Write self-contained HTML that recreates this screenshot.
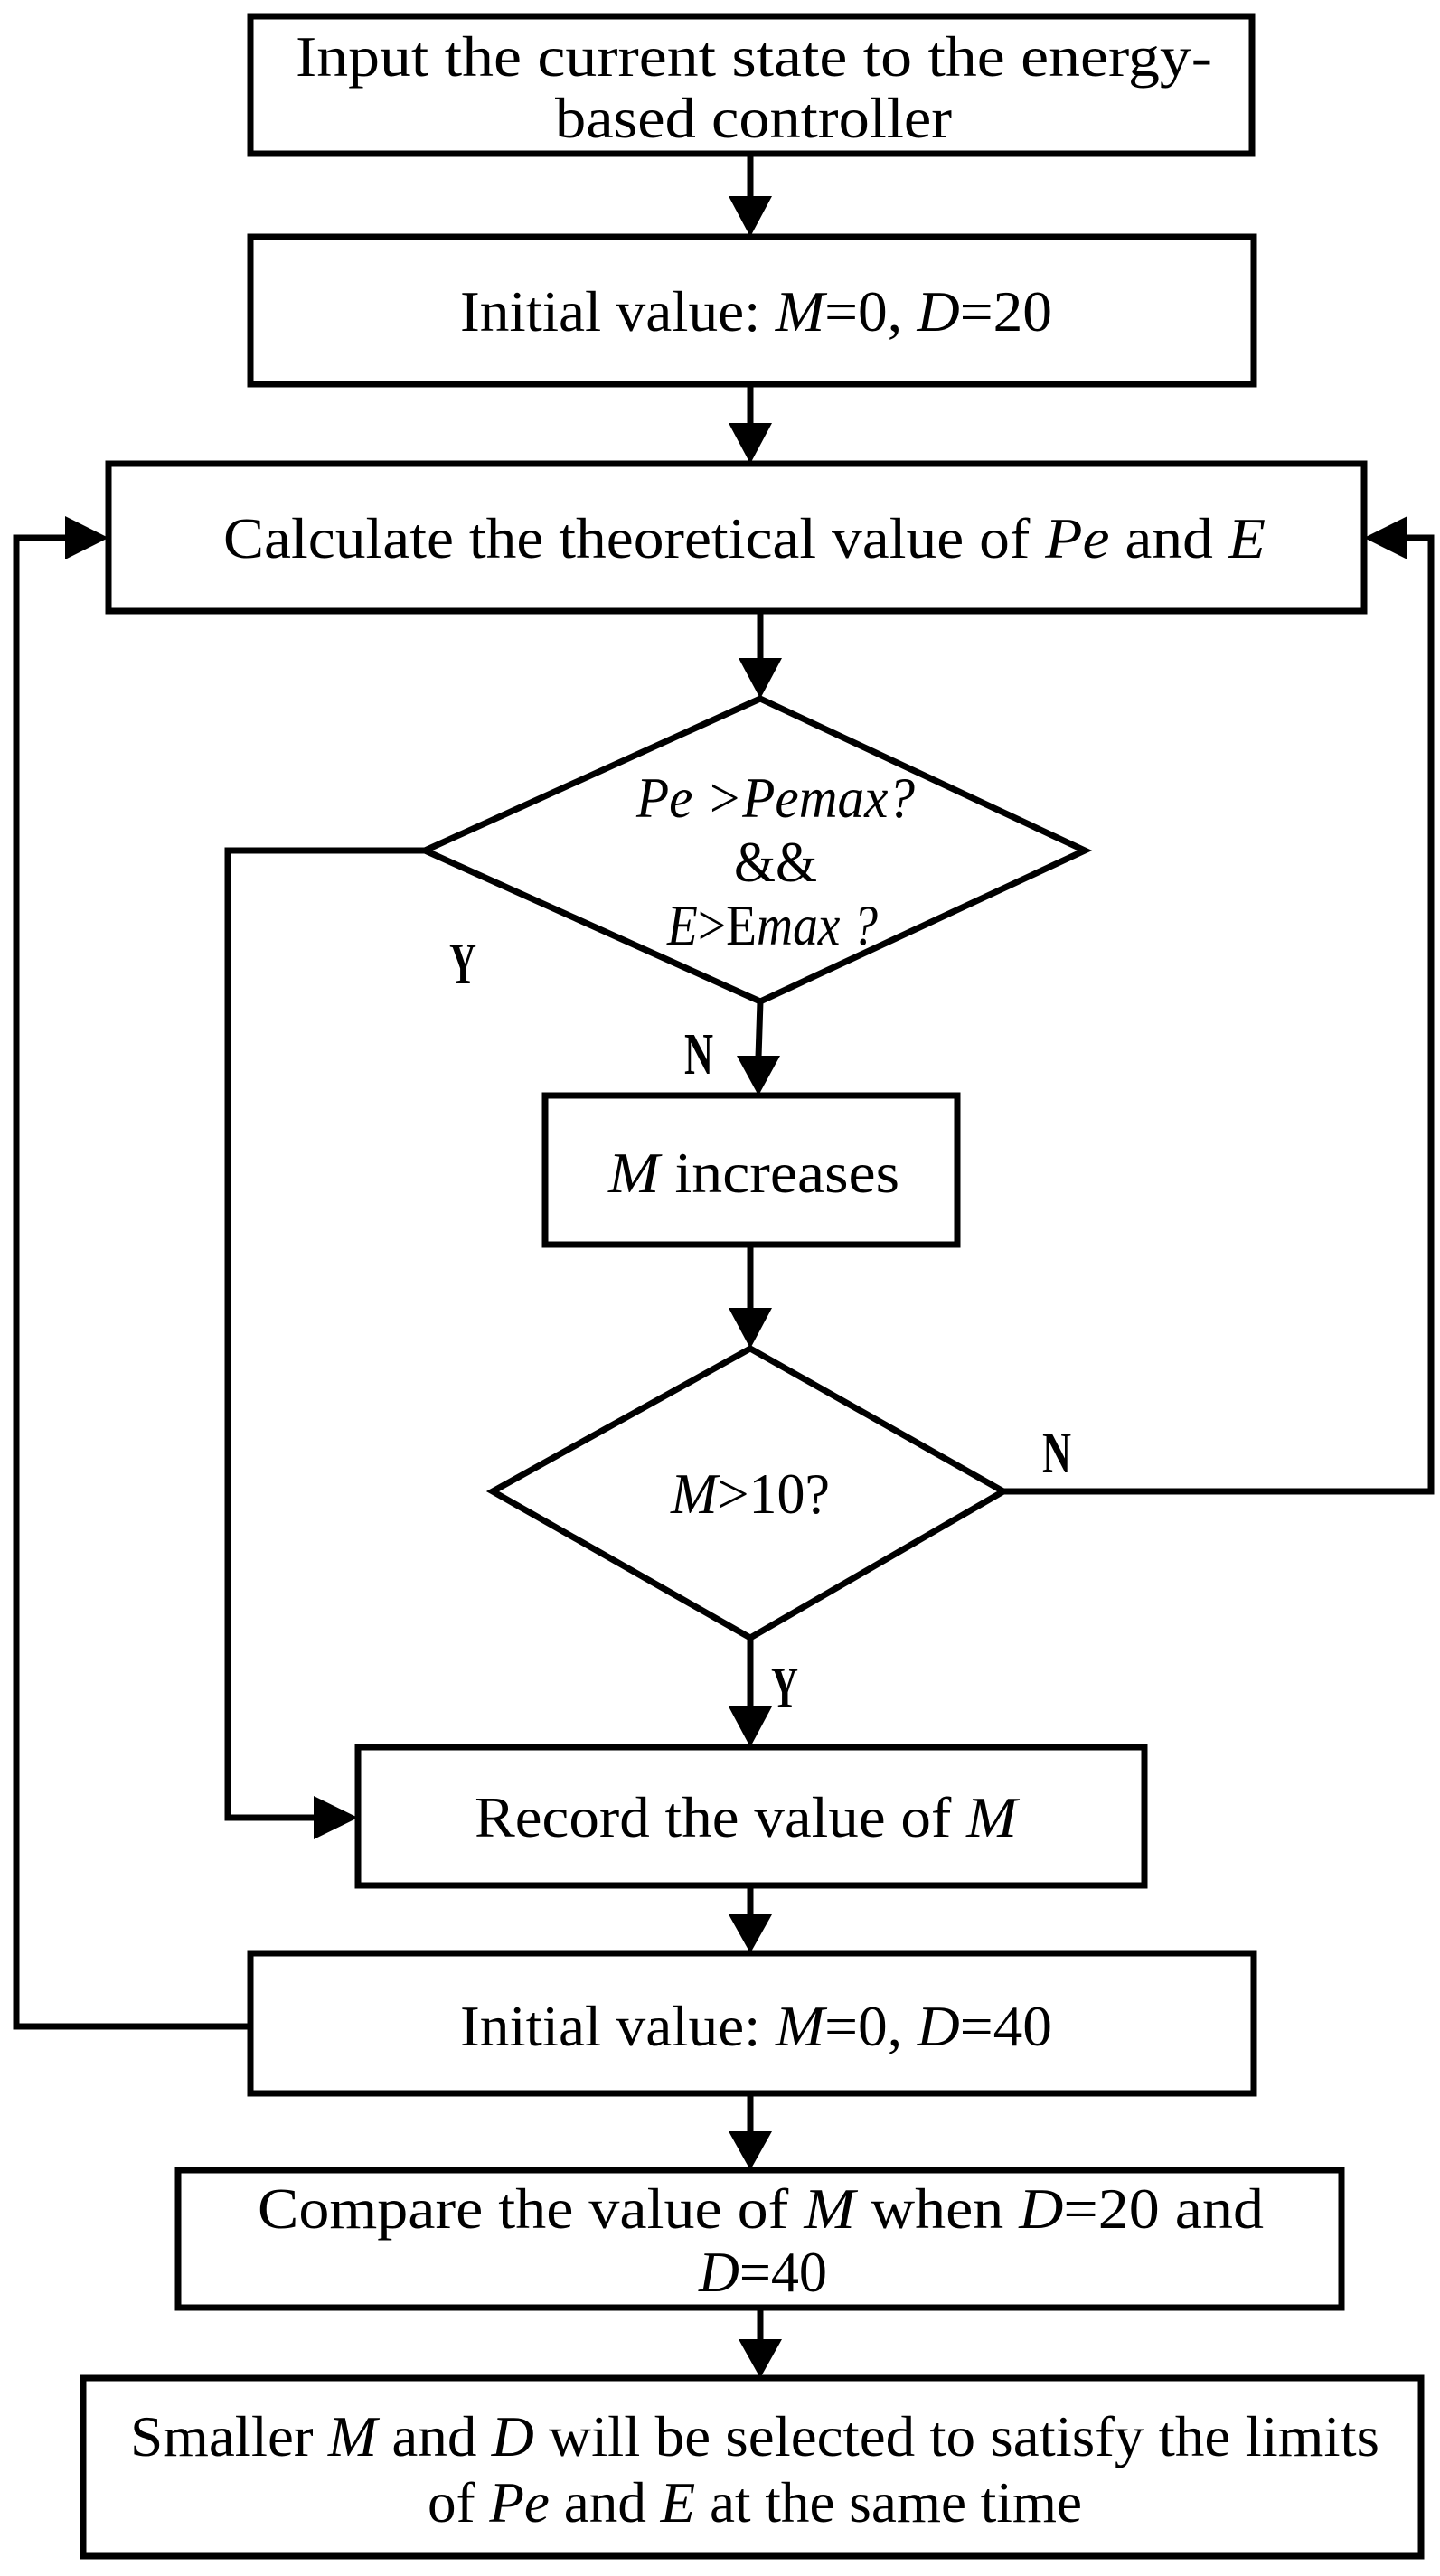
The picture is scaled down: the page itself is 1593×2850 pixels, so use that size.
<!DOCTYPE html>
<html><head><meta charset="utf-8"><style>html,body{margin:0;padding:0;background:#fff}svg{display:block}</style></head>
<body>
<svg xmlns="http://www.w3.org/2000/svg" width="1593" height="2850" viewBox="0 0 1593 2850" font-family="'Liberation Serif', serif" font-size="64" fill="#000">
<g fill="none" stroke="#000" stroke-width="7" stroke-linejoin="miter">
<rect x="277" y="18" width="1108" height="152"/>
<rect x="277" y="262" width="1110" height="163"/>
<rect x="120" y="513" width="1389" height="163"/>
<polygon points="841,773 1200,941 841,1108 470,941"/>
<rect x="603" y="1212" width="456" height="165"/>
<polygon points="830,1492 1110,1650 830,1812 545,1650"/>
<rect x="396" y="1933" width="870" height="153"/>
<rect x="277" y="2161" width="1110" height="155"/>
<rect x="197" y="2401" width="1287" height="152"/>
<rect x="92" y="2631" width="1480" height="197"/>
<line x1="830" y1="170" x2="830" y2="220"/>
<line x1="830" y1="425" x2="830" y2="470"/>
<line x1="841" y1="676" x2="841" y2="730"/>
<line x1="841" y1="1108" x2="839" y2="1170"/>
<line x1="830" y1="1377" x2="830" y2="1448"/>
<line x1="830" y1="1812" x2="830" y2="1890"/>
<line x1="830" y1="2086" x2="830" y2="2120"/>
<line x1="830" y1="2316" x2="830" y2="2360"/>
<line x1="841" y1="2553" x2="841" y2="2590"/>
<polyline points="470,941 252,941 252,2011 350,2011"/>
<polyline points="1110,1650 1583,1650 1583,595 1555,595"/>
<polyline points="277,2242 18,2242 18,595 75,595"/>
</g>
<g fill="#000">
<polygon points="806,217 854,217 830,262"/>
<polygon points="806,468 854,468 830,513"/>
<polygon points="817,728 865,728 841,773"/>
<polygon points="815,1168 863,1168 839,1212"/>
<polygon points="806,1447 854,1447 830,1492"/>
<polygon points="806,1888 854,1888 830,1933"/>
<polygon points="806,2118 854,2118 830,2161"/>
<polygon points="806,2358 854,2358 830,2401"/>
<polygon points="817,2588 865,2588 841,2631"/>
<polygon points="347,1987 347,2035 396,2011"/>
<polygon points="72,571 72,619 120,595"/>
<polygon points="1557,571 1557,619 1509,595"/>
</g>
<text x="327" y="84" textLength="1014" lengthAdjust="spacingAndGlyphs">Input the current state to the energy-</text>
<text x="614" y="152" textLength="439" lengthAdjust="spacingAndGlyphs">based controller</text>
<text x="509" y="366" textLength="655" lengthAdjust="spacingAndGlyphs">Initial value: <tspan font-style="italic">M</tspan>=0, <tspan font-style="italic">D</tspan>=20</text>
<text x="247" y="617" textLength="1153" lengthAdjust="spacingAndGlyphs">Calculate the theoretical value of <tspan font-style="italic">Pe</tspan> and <tspan font-style="italic">E</tspan></text>
<text x="704" y="904" textLength="308" lengthAdjust="spacingAndGlyphs" font-style="italic">Pe &gt;Pemax?</text>
<text x="812" y="975" textLength="92" lengthAdjust="spacingAndGlyphs">&amp;&amp;</text>
<text x="738" y="1045" textLength="233" lengthAdjust="spacingAndGlyphs"><tspan font-style="italic">E</tspan>&gt;E<tspan font-style="italic">max ?</tspan></text>
<text x="673" y="1319" textLength="322" lengthAdjust="spacingAndGlyphs"><tspan font-style="italic">M</tspan> increases</text>
<text x="742" y="1674" textLength="176" lengthAdjust="spacingAndGlyphs"><tspan font-style="italic">M</tspan>&gt;10?</text>
<text x="525" y="2032" textLength="600" lengthAdjust="spacingAndGlyphs">Record the value of <tspan font-style="italic">M</tspan></text>
<text x="509" y="2263" textLength="655" lengthAdjust="spacingAndGlyphs">Initial value: <tspan font-style="italic">M</tspan>=0, <tspan font-style="italic">D</tspan>=40</text>
<text x="285" y="2465" textLength="1113" lengthAdjust="spacingAndGlyphs">Compare the value of <tspan font-style="italic">M</tspan> when <tspan font-style="italic">D</tspan>=20 and</text>
<text x="773" y="2535" textLength="142" lengthAdjust="spacingAndGlyphs"><tspan font-style="italic">D</tspan>=40</text>
<text x="144" y="2717" textLength="1382" lengthAdjust="spacingAndGlyphs">Smaller <tspan font-style="italic">M</tspan> and <tspan font-style="italic">D</tspan> will be selected to satisfy the limits</text>
<text x="473" y="2790" textLength="724" lengthAdjust="spacingAndGlyphs">of <tspan font-style="italic">Pe</tspan> and <tspan font-style="italic">E</tspan> at the same time</text>
<g font-weight="bold" font-size="66">
<text x="497" y="1088" textLength="30" lengthAdjust="spacingAndGlyphs">Y</text>
<text x="757" y="1188" textLength="32" lengthAdjust="spacingAndGlyphs">N</text>
<text x="1153" y="1629" textLength="32" lengthAdjust="spacingAndGlyphs">N</text>
<text x="853" y="1889" textLength="30" lengthAdjust="spacingAndGlyphs">Y</text>
</g>
</svg>
</body></html>
